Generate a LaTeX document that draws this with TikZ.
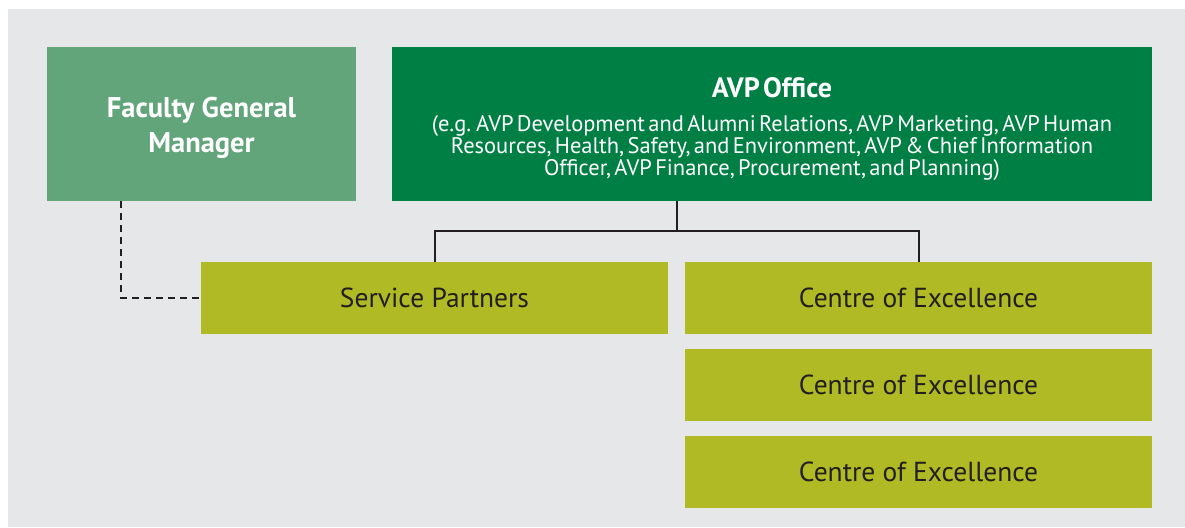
\documentclass[tikz,border=0pt]{standalone}
\usepackage{fontspec}
\setmainfont{PT Sans}
\usetikzlibrary{positioning}

\definecolor{bggray}{HTML}{E6E7E9}
\definecolor{fgmgreen}{HTML}{63A57B}
\definecolor{avpgreen}{HTML}{007F45}
\definecolor{limegreen}{HTML}{AFBA24}
\definecolor{linedark}{HTML}{231F20}

\begin{document}
\begin{tikzpicture}[x=1pt,y=-1pt,every node/.style={outer sep=0pt},
 unit/.style={draw=none,inner sep=0pt,align=center},
 headbox/.style={unit,minimum width=309pt,minimum height=154pt,text=white,
  font=\bfseries\fontsize{28.5}{35}\selectfont},
 partbox/.style={unit,fill=limegreen,minimum width=467pt,minimum height=72pt,
  text=linedark,font=\fontsize{27.5}{30}\selectfont},
 tree/.style={draw=linedark,line width=2pt},
 link/.style={draw=linedark,line width=2.4pt,dash pattern=on 7pt off 5pt}]

 % page and grey panel
 \fill[white] (0,0) rectangle (1185,527);
 \fill[bggray] (8,9) rectangle (1185,527);

 % top row
 \node[headbox,fill=fgmgreen] (fgm) at (201.5,124)
  {\rule{0pt}{29pt}Faculty General\\Manager};
 \node[unit,fill=avpgreen,minimum width=760pt,minimum height=154pt,text=white,
  text width=750pt] (avp) at (772,124)
  {{\bfseries\fontsize{28}{30}\selectfont\rule{0pt}{30pt}AVP Office\par}\vspace{14pt}
   {\fontsize{22.5}{20.5}\selectfont (e.g. AVP Development and Alumni Relations, AVP Marketing, AVP Human\\
   Resources, Health, Safety, and Environment, AVP \& Chief Information\\
   Officer, AVP Finance, Procurement, and Planning)\par}};

 % second level
 \node[partbox] (sp) at (434.5,298) {Service Partners};
 \node[partbox] (ce1) at (918.5,298) {Centre of Excellence};
 \node[partbox,below=15pt of ce1] (ce2) {Centre of Excellence};
 \node[partbox,below=15pt of ce2] (ce3) {Centre of Excellence};

 % connectors
 \coordinate (split) at (676.5,231);
 \coordinate (dl) at (121,298);
 \draw[tree] (split |- avp.south) -- (split);
 \draw[tree] (sp.north) |- (split) -| (ce1.north);
 \draw[link] (fgm.south -| dl) |- (sp.west);

\end{tikzpicture}
\end{document}
